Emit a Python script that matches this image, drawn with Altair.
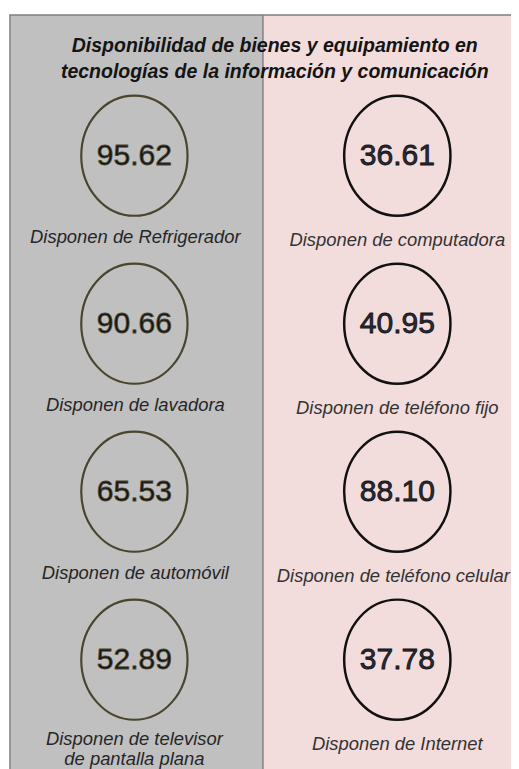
import altair as alt
import pandas as pd

# ---- data ----
title_lines = ["Disponibilidad de bienes y equipamiento en",
               "tecnologías de la información y comunicación"]

left_labels = ["Disponen de Refrigerador", "Disponen de lavadora",
               "Disponen de automóvil", "Disponen de televisor\nde pantalla plana"]
left_values = [95.62, 90.66, 65.53, 52.89]

right_labels = ["Disponen de computadora", "Disponen de teléfono fijo",
                "Disponen de teléfono celular", "Disponen de Internet"]
right_values = [36.61, 40.95, 88.10, 37.78]

sides = ["izq", "der"]

rows = []
for i, (lab, val) in enumerate(zip(left_labels, left_values)):
    rows.append({"side": "izq", "col": 0, "row": i, "value": val, "label": lab})
for i, (lab, val) in enumerate(zip(right_labels, right_values)):
    rows.append({"side": "der", "col": 1, "row": i, "value": val, "label": lab})
df = pd.DataFrame(rows)

W, H = 511, 761
one = pd.DataFrame({"k": [0]})

xs = alt.Scale(domain=[0, 1], range=[128.4, 395.5], zero=False, nice=False)
ys = alt.Scale(domain=[0, 3], range=[144, 656], zero=False, nice=False)
X = alt.X("col:Q", scale=xs, axis=None)
Y = alt.Y("row:Q", scale=ys, axis=None)

# ---- decorative panels ----
left_panel = alt.Chart(one).mark_rect(fill="#c0c0c0").encode(
    x=alt.value(2), x2=alt.value(259), y=alt.value(1), y2=alt.value(H + 20))
right_panel = alt.Chart(one).mark_rect(fill="#f2dcdc").encode(
    x=alt.value(259), x2=alt.value(W + 20), y=alt.value(1), y2=alt.value(H + 20))
frame = alt.Chart(one).mark_rect(fill=None, stroke="#7f7f7f", strokeWidth=1.5).encode(
    x=alt.value(2), x2=alt.value(W + 20), y=alt.value(1), y2=alt.value(H + 20))
divider = alt.Chart(one).mark_rule(stroke="#7f7f7f", strokeWidth=1.5).encode(
    x=alt.value(259), y=alt.value(1), y2=alt.value(H + 20))

title = alt.Chart(one).mark_text(
    text="\n".join(title_lines), lineBreak="\n", lineHeight=26,
    font="Liberation Sans", fontSize=19.8, fontStyle="italic", fontWeight="bold",
    color="#141414", align="center", baseline="alphabetic"
).encode(x=alt.value(271), y=alt.value(39))

# ---- ellipses ----
rx, k = 0.885, 0.5523
kx = k * rx
ellipse = (f"M 0,-1 C {kx:.4f},-1 {rx},-{k} {rx},0 "
           f"C {rx},{k} {kx:.4f},1 0,1 "
           f"C -{kx:.4f},1 -{rx},{k} -{rx},0 "
           f"C -{rx},-{k} -{kx:.4f},-1 0,-1 Z")

circles = alt.Chart(df).mark_point(
    shape=ellipse, size=122 * 122, filled=False, opacity=1
).encode(
    x=X, y=Y,
    stroke=alt.Stroke("side:N", scale=alt.Scale(domain=sides, range=["#4a4530", "#111111"]), legend=None),
    strokeWidth=alt.StrokeWidth("side:N", scale=alt.Scale(domain=sides, range=[2.2, 2.5]), legend=None),
)

num_colors = alt.Scale(domain=sides, range=["#141414", "#262b3a"])
numbers = alt.Chart(df).mark_text(
    font="Liberation Sans", fontSize=30.5, align="center", baseline="middle", dy=0,
    strokeWidth=0.8
).encode(
    x=X, y=Y,
    text=alt.Text("value:Q", format=".2f"),
    color=alt.Color("side:N", scale=num_colors, legend=None),
    stroke=alt.Stroke("side:N", scale=num_colors, legend=None),
)

lab_style = dict(font="Liberation Sans", fontSize=18.7, fontStyle="italic",
                 align="center", baseline="middle", lineBreak="\n", lineHeight=20)

labels_left = alt.Chart(df).transform_filter(
    (alt.datum.side == "izq") & (alt.datum.row != 3)
).mark_text(
    color="#262626", dy=82.5, dx=1, **lab_style
).encode(x=X, y=Y, text="label:N")

# the two-line label sits a little higher so that both lines stay on the page
labels_left_two = alt.Chart(df).transform_filter(
    (alt.datum.side == "izq") & (alt.datum.row == 3)
).mark_text(
    color="#262626", dy=81, dx=0, **lab_style
).encode(x=X, y=Y, text="label:N")

labels_right = alt.Chart(df).transform_filter(
    (alt.datum.side == "der") & (alt.datum.row != 2)
).mark_text(
    color="#333333", dy=85.5, dx=0, **lab_style
).encode(x=X, y=Y, text="label:N")

# the long label sits a little further left so that it stays inside the panel
labels_right_long = alt.Chart(df).transform_filter(
    (alt.datum.side == "der") & (alt.datum.row == 2)
).mark_text(
    color="#333333", dy=85.5, dx=-4, **lab_style
).encode(x=X, y=Y, text="label:N")

chart = alt.layer(
    left_panel, right_panel, frame, divider, title, circles, numbers,
    labels_left, labels_left_two, labels_right, labels_right_long
).properties(
    width=W, height=H, padding=0, autosize=alt.AutoSizeParams(type="none"),
    background="white"
).configure_view(stroke=None)

chart.save("out.html", embed_options={"renderer": "svg", "actions": False})
